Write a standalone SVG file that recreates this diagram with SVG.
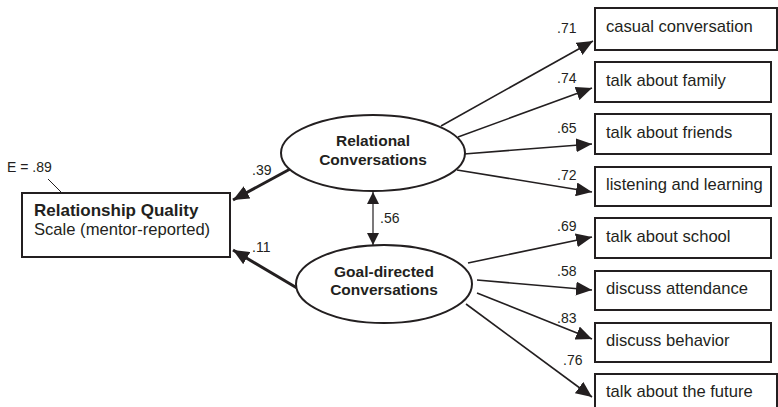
<svg xmlns="http://www.w3.org/2000/svg" width="778" height="407" viewBox="0 0 778 407">
<style>
text{font-family:"Liberation Sans",Arial,sans-serif;fill:#231f20}
.box{fill:#fff;stroke:#231f20;stroke-width:2}
.ell{fill:#fff;stroke:#231f20;stroke-width:2}
.lbl{font-size:16.6px}
.num{font-size:14px}
.bold{font-weight:bold;font-size:17px}
.eb{font-weight:bold;font-size:15.5px}
.c{stroke:#231f20;fill:none}
.thin{stroke-width:1.6}
.thick{stroke-width:3}
</style>
<defs>
<marker id="ah" markerUnits="userSpaceOnUse" markerWidth="18" markerHeight="14" refX="16" refY="7" orient="auto">
<path d="M0,0 L16,7 L0,14 Z" fill="#231f20"/>
</marker>
<marker id="ahs" markerUnits="userSpaceOnUse" markerWidth="14" markerHeight="12" refX="12" refY="6" orient="auto-start-reverse">
<path d="M0,0 L12,6 L0,12 Z" fill="#231f20"/>
</marker>
</defs>
<g id="connectors">
<path class="c thick" d="M292,168 L233,200" marker-end="url(#ah)"/>
<path class="c thick" d="M297,288 L233,250" marker-end="url(#ah)"/>
<path class="c" stroke-width="1.2" d="M373,192 L373,245" marker-start="url(#ahs)" marker-end="url(#ahs)"/>
<path class="c thin" d="M441,126 L593,41" marker-end="url(#ah)"/>
<path class="c thin" d="M458,137 L592,88" marker-end="url(#ah)"/>
<path class="c thin" d="M464,154 L592,144" marker-end="url(#ah)"/>
<path class="c thin" d="M457,170 L592,192" marker-end="url(#ah)"/>
<path class="c thin" d="M468,263 L592,237" marker-end="url(#ah)"/>
<path class="c thin" d="M477,280 L592,290" marker-end="url(#ah)"/>
<path class="c thin" d="M477,293 L592,339" marker-end="url(#ah)"/>
<path class="c thin" d="M466,304 L592,397" marker-end="url(#ah)"/>
<path class="c" stroke-width="1" d="M48,179 L61,192"/>
<text class="num" x="252" y="175">.39</text>
<text class="num" x="252" y="252">.11</text>
<text class="num" x="380" y="223">.56</text>
<text class="num" x="557" y="33">.71</text>
<text class="num" x="557" y="83">.74</text>
<text class="num" x="557" y="133">.65</text>
<text class="num" x="557" y="180">.72</text>
<text class="num" x="557" y="231">.69</text>
<text class="num" x="557" y="276">.58</text>
<text class="num" x="557" y="323">.83</text>
<text class="num" x="563" y="365">.76</text>
</g>
<g id="rq">
<text class="num" x="7" y="172">E = .89</text>
<rect class="box" x="22" y="193" width="208" height="64"/>
<text class="bold" x="34" y="216">Relationship Quality</text>
<text class="lbl" x="34" y="235">Scale (mentor-reported)</text>
</g>
<g id="relational">
<ellipse class="ell" cx="373" cy="153" rx="92" ry="38"/>
<text class="eb" x="373" y="146" text-anchor="middle">Relational</text>
<text class="eb" x="373" y="165" text-anchor="middle">Conversations</text>
</g>
<g id="goal">
<ellipse class="ell" cx="384" cy="284" rx="88" ry="39"/>
<text class="eb" x="384" y="277" text-anchor="middle">Goal-directed</text>
<text class="eb" x="384" y="295" text-anchor="middle">Conversations</text>
</g>
<g id="casual"><rect class="box" x="595" y="8" width="182" height="42"/><text class="lbl" x="606" y="32">casual conversation</text></g>
<g id="family"><rect class="box" x="595" y="62" width="176" height="40"/><text class="lbl" x="606" y="86">talk about family</text></g>
<g id="friends"><rect class="box" x="595" y="114" width="176" height="40"/><text class="lbl" x="606" y="138">talk about friends</text></g>
<g id="listening"><rect class="box" x="595" y="167" width="176" height="39"/><text class="lbl" x="606" y="190">listening and learning</text></g>
<g id="school"><rect class="box" x="595" y="218" width="176" height="40"/><text class="lbl" x="606" y="242">talk about school</text></g>
<g id="attendance"><rect class="box" x="595" y="271" width="176" height="39"/><text class="lbl" x="606" y="294">discuss attendance</text></g>
<g id="behavior"><rect class="box" x="595" y="323" width="176" height="39"/><text class="lbl" x="606" y="346">discuss behavior</text></g>
<g id="future"><rect class="box" x="595" y="374" width="182" height="40"/><text class="lbl" x="606" y="397">talk about the future</text></g>
</svg>
